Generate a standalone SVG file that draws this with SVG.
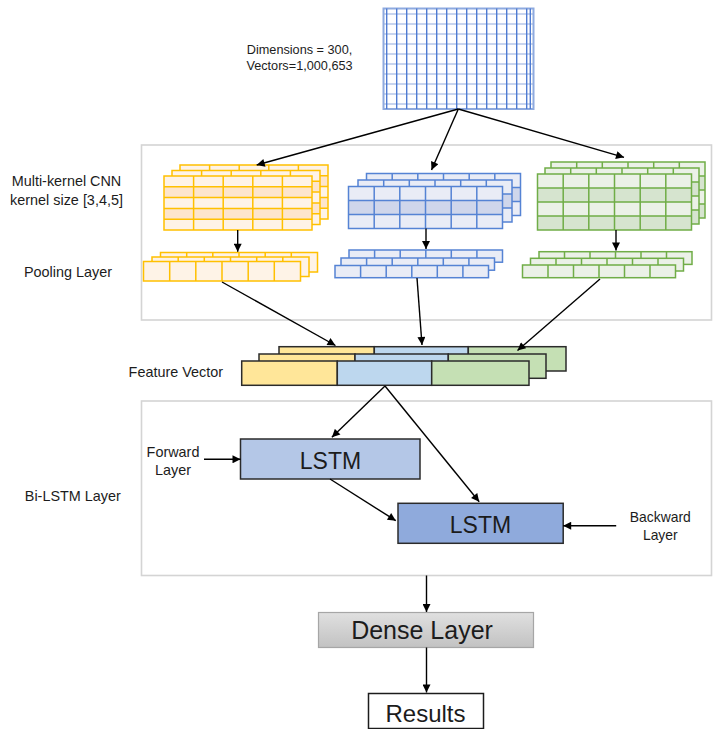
<svg xmlns="http://www.w3.org/2000/svg" xmlns:xlink="http://www.w3.org/1999/xlink" width="713" height="729" viewBox="0 0 713 729">
  <style>
    text { font-family: "Liberation Sans", Arial, sans-serif; fill: #1c1c1c; }
    .lbl { font-size: 14.4px; }
    .mid { text-anchor: middle; }
    .edge { fill: none; stroke: #000; stroke-width: 1.4; marker-end: url(#arrow); }
    .section { fill: #fff; stroke: #d4d4d4; stroke-width: 1.6; }
    .y { stroke: #ffc000; stroke-width: 1.5; fill: none; }
    .b { stroke: #5583d4; stroke-width: 1.5; fill: none; }
    .g { stroke: #70ad47; stroke-width: 1.5; fill: none; }
    .fv { stroke: #2b2b2b; stroke-width: 1.5; }
    .cell { stroke: #2b2b2b; stroke-width: 1.5; }
  </style>
  <defs>
    <marker id="arrow" viewBox="0 0 10 10" refX="10" refY="5" markerWidth="9" markerHeight="8" markerUnits="userSpaceOnUse" orient="auto">
      <path d="M0,0 L10,5 L0,10 z" fill="#000"/>
    </marker>
    <linearGradient id="denseFill" x1="0" y1="0" x2="0" y2="1">
      <stop offset="0" stop-color="#e0e0e0"/>
      <stop offset="1" stop-color="#c2c2c2"/>
    </linearGradient>

    <!-- yellow convolution map: 5 x 5 cells -->
    <g id="ycnn">
      <rect width="148" height="54" fill="#fef3e7"/>
      <rect y="10.8" width="148" height="10.8" fill="#fde5cd"/>
      <rect y="32.4" width="148" height="10.8" fill="#fde5cd"/>
      <path class="y" d="M29.6 0V54M59.2 0V54M88.8 0V54M118.4 0V54M0 10.8H148M0 21.6H148M0 32.4H148M0 43.2H148"/>
      <rect class="y" width="148" height="54"/>
    </g>
    <!-- yellow pooled map: 6 cells -->
    <g id="ypool">
      <rect width="157" height="19.5" fill="#fef3e7"/>
      <path class="y" d="M26.2 0V19.5M52.3 0V19.5M78.5 0V19.5M104.7 0V19.5M130.8 0V19.5"/>
      <rect class="y" width="157" height="19.5"/>
    </g>

    <!-- blue convolution map: 6 x 3 cells -->
    <g id="bcnn">
      <rect width="154" height="42" fill="#e9ecf6"/>
      <rect y="14" width="154" height="14" fill="#cfd6eb"/>
      <path class="b" d="M25.7 0V42M51.3 0V42M77 0V42M102.7 0V42M128.3 0V42M0 14H154M0 28H154"/>
      <rect class="b" width="154" height="42"/>
    </g>
    <g id="bpool">
      <rect width="153.5" height="12.2" fill="#e9ecf6"/>
      <path class="b" d="M25.6 0V12.2M51.2 0V12.2M76.8 0V12.2M102.3 0V12.2M127.9 0V12.2"/>
      <rect class="b" width="153.5" height="12.2"/>
    </g>

    <!-- green convolution map: 6 x 4 cells -->
    <g id="gcnn">
      <rect width="154" height="56" fill="#ebf1e7"/>
      <rect y="14" width="154" height="14" fill="#d6e4cf"/>
      <rect y="42" width="154" height="14" fill="#d6e4cf"/>
      <path class="g" d="M25.7 0V56M51.3 0V56M77 0V56M102.7 0V56M128.3 0V56M0 14H154M0 28H154M0 42H154"/>
      <rect class="g" width="154" height="56"/>
    </g>
    <g id="gpool">
      <rect width="153" height="12.7" fill="#ebf1e7"/>
      <path class="g" d="M25.5 0V12.7M51 0V12.7M76.5 0V12.7M102 0V12.7M127.5 0V12.7"/>
      <rect class="g" width="153" height="12.7"/>
    </g>

    <!-- concatenated feature vector slice -->
    <g id="fvec">
      <rect class="fv" x="0" y="0" width="95.6" height="24.3" fill="#ffe699"/>
      <rect class="fv" x="95.6" y="0" width="94.4" height="24.3" fill="#bdd7ee"/>
      <rect class="fv" x="190" y="0" width="97.3" height="24.3" fill="#c5e0b4"/>
    </g>
  </defs>

  <rect width="713" height="729" fill="#fff"/>

  <!-- section frames -->
  <rect id="cnn-frame" class="section" x="141.5" y="145" width="570" height="175"/>
  <rect id="bilstm-frame" class="section" x="141.5" y="401" width="570" height="174.5"/>

  <!-- word embedding matrix -->
  <g id="embedding">
    <rect x="383.5" y="8.5" width="150" height="100.5" fill="#fff" stroke="#8eaadf" stroke-width="2"/>
    <path fill="none" stroke="#92acdf" stroke-width="1.2" d="M383.5 14H533.5M383.5 24H533.5M383.5 34H533.5M383.5 44H533.5M383.5 54H533.5M383.5 64H533.5M383.5 74H533.5M383.5 84H533.5M383.5 94H533.5M383.5 104H533.5"/>
    <path fill="none" stroke="#4f7bd2" stroke-width="1.4" d="M386.7 8.5V109M396.7 8.5V109M406.7 8.5V109M416.7 8.5V109M426.7 8.5V109M436.7 8.5V109M446.7 8.5V109M456.7 8.5V109M466.7 8.5V109M476.7 8.5V109M486.7 8.5V109M496.7 8.5V109M506.7 8.5V109M516.7 8.5V109M526.7 8.5V109M530.3 8.5V109"/>
    <text class="mid" x="299.5" y="53.8" style="font-size:12.7px">Dimensions = 300,</text>
    <text class="mid" x="299.5" y="69.6" style="font-size:12.7px">Vectors=1,000,653</text>
  </g>

  <!-- convolution stacks -->
  <g id="cnn-k3">
    <use xlink:href="#ycnn" x="180" y="165"/>
    <use xlink:href="#ycnn" x="172" y="170.5"/>
    <use xlink:href="#ycnn" x="164" y="176"/>
  </g>
  <g id="cnn-k4">
    <use xlink:href="#bcnn" x="366.5" y="173.5"/>
    <use xlink:href="#bcnn" x="358" y="180"/>
    <use xlink:href="#bcnn" x="348.5" y="186.5"/>
  </g>
  <g id="cnn-k5">
    <use xlink:href="#gcnn" x="551" y="162"/>
    <use xlink:href="#gcnn" x="545" y="168"/>
    <use xlink:href="#gcnn" x="537.5" y="174"/>
  </g>

  <!-- pooling stacks -->
  <g id="pool-k3">
    <use xlink:href="#ypool" x="160.5" y="252.5"/>
    <use xlink:href="#ypool" x="152" y="257"/>
    <use xlink:href="#ypool" x="143.5" y="261.5"/>
  </g>
  <g id="pool-k4">
    <use xlink:href="#bpool" x="349" y="250"/>
    <use xlink:href="#bpool" x="341" y="258"/>
    <use xlink:href="#bpool" x="335" y="265.5"/>
  </g>
  <g id="pool-k5">
    <use xlink:href="#gpool" x="539" y="251.7"/>
    <use xlink:href="#gpool" x="530.5" y="258.3"/>
    <use xlink:href="#gpool" x="522.5" y="265"/>
  </g>

  <!-- feature vector -->
  <g id="feature-vector">
    <g transform="translate(279,346.7)">
      <rect class="fv" x="0" y="0" width="95.3" height="24.3" fill="#ffe699"/>
      <rect class="fv" x="95.3" y="0" width="94" height="24.3" fill="#bdd7ee"/>
      <rect class="fv" x="189.3" y="0" width="97.7" height="24.3" fill="#c5e0b4"/>
    </g>
    <g transform="translate(259,354)">
      <rect class="fv" x="0" y="0" width="96" height="24.3" fill="#ffe699"/>
      <rect class="fv" x="96" y="0" width="93.3" height="24.3" fill="#bdd7ee"/>
      <rect class="fv" x="189.3" y="0" width="97.7" height="24.3" fill="#c5e0b4"/>
    </g>
    <g transform="translate(241.7,361)">
      <use xlink:href="#fvec"/>
    </g>
  </g>

  <!-- Bi-LSTM cells -->
  <g id="lstm-forward">
    <rect class="cell" x="240.5" y="439" width="179.5" height="40" fill="#b4c7e7"/>
    <text class="mid" x="330.5" y="468.8" style="font-size:23px">LSTM</text>
  </g>
  <g id="lstm-backward">
    <rect class="cell" x="398" y="503.3" width="165.2" height="40" fill="#8faadc"/>
    <text class="mid" x="480.5" y="533" style="font-size:23px">LSTM</text>
  </g>

  <g id="dense">
    <rect x="318.5" y="612.5" width="215" height="35" fill="url(#denseFill)" stroke="#a6a6a6" stroke-width="1.2"/>
    <text class="mid" x="422" y="639.3" style="font-size:25px">Dense Layer</text>
  </g>
  <g id="results">
    <rect x="368.5" y="693.5" width="115" height="35" fill="#fff" stroke="#1c1c1c" stroke-width="1.5"/>
    <text class="mid" x="425.5" y="721.6" style="font-size:24px">Results</text>
  </g>

  <!-- side labels -->
  <g id="labels">
    <text class="lbl mid" x="66.5" y="185.9">Multi-kernel CNN</text>
    <text class="lbl mid" x="66.5" y="205">kernel size [3,4,5]</text>
    <text class="lbl mid" x="68" y="277.3">Pooling Layer</text>
    <text class="lbl mid" x="175.8" y="377.3">Feature Vector</text>
    <text class="lbl mid" x="72.8" y="501">Bi-LSTM Layer</text>
    <text class="lbl mid" x="173" y="456.9">Forward</text>
    <text class="lbl mid" x="173" y="475">Layer</text>
    <text class="lbl mid" x="660.3" y="521.9" style="font-size:13.9px">Backward</text>
    <text class="lbl mid" x="660.3" y="540" style="font-size:13.9px">Layer</text>
  </g>

  <!-- connectors -->
  <g id="connectors">
    <path class="edge" d="M458.3 109L256.7 165"/>
    <path class="edge" d="M458.3 109L431.5 170"/>
    <path class="edge" d="M458.3 109L624 157.3"/>
    <path class="edge" d="M237.7 230V251.7"/>
    <path class="edge" d="M426 228.5V249"/>
    <path class="edge" d="M616 230V250.5"/>
    <path class="edge" d="M222 282L335.5 345.5"/>
    <path class="edge" d="M417 278L422 345"/>
    <path class="edge" d="M600 279L517.5 350.5"/>
    <path class="edge" d="M385 386L331.9 437.3"/>
    <path class="edge" d="M385 386L479.2 501.7"/>
    <path class="edge" d="M330 479L395.8 520.7"/>
    <path class="edge" d="M204 459.3H240.5"/>
    <path class="edge" d="M616.2 525.7H563.2"/>
    <path class="edge" d="M426.5 575.5V612"/>
    <path class="edge" d="M426.5 647.5V692.5"/>
  </g>
</svg>
